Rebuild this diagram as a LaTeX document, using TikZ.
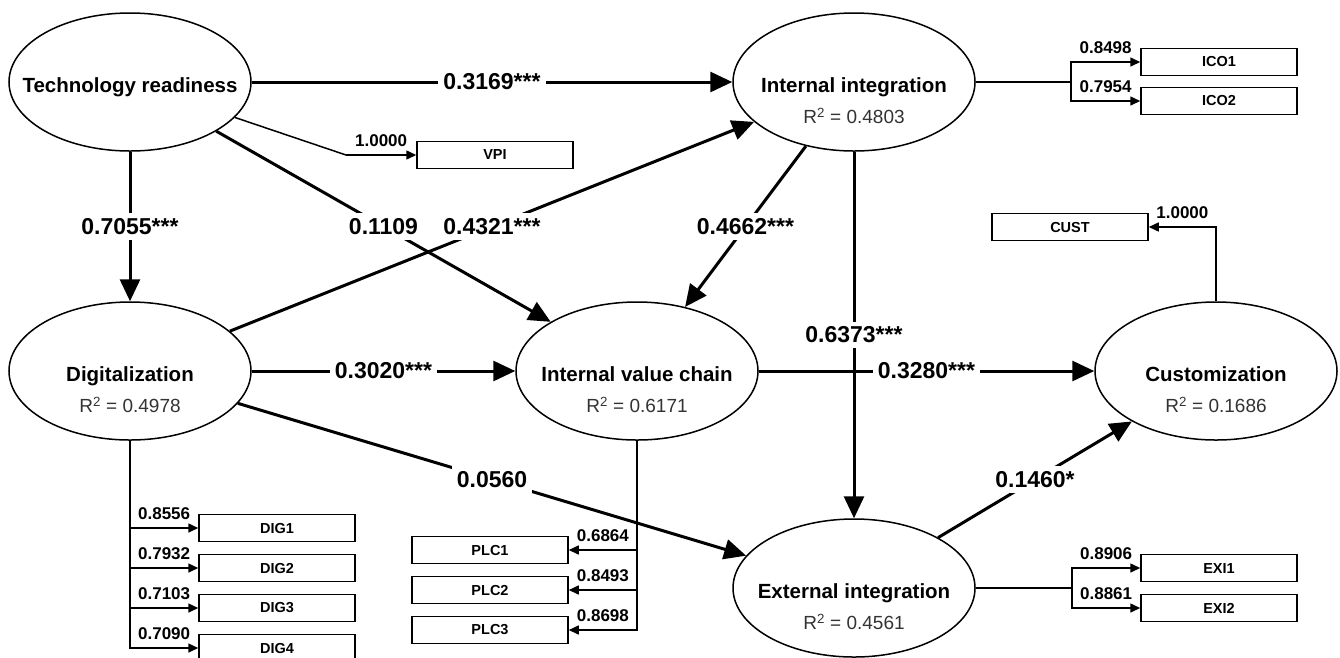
\documentclass[tikz,border=0pt]{standalone}
\usepackage{fontspec}
\setmainfont{Liberation Sans}
\usetikzlibrary{arrows.meta,shapes.geometric}
\begin{document}
\begin{tikzpicture}[x=1pt,y=-1pt,
  latent/.style={draw,ellipse,line width=1.5pt,minimum width=242pt,minimum height=138pt,inner sep=0pt},
  lvname/.style={inner sep=0pt,text height=14.7pt,text depth=0pt,font=\fontsize{20.5}{24}\selectfont\bfseries},
  rsq/.style={inner sep=0pt,text height=13.6pt,text depth=0pt,text=black!80,font=\fontsize{19}{22}\selectfont},
  item/.style={draw,line width=1.5pt,minimum width=156pt,minimum height=27pt,inner sep=0pt,font=\fontsize{14.5}{17}\selectfont\bfseries},
  coefline/.style={line width=3pt,-{Triangle[length=22pt,width=20pt]}},
  coef/.style={fill=white,inner sep=5pt,font=\fontsize{23}{27}\selectfont\bfseries},
  loadline/.style={line width=1.5pt},
  loadtip/.style={-{Triangle[length=10pt,width=9pt]}},
  load/.style={inner sep=1pt,above=7pt,font=\fontsize{17}{20}\selectfont\bfseries}]
  \useasboundingbox (0,0) rectangle (1340,657);
  \foreach \n/\x/\y/\t in {tr/130/82/Technology readiness,ii/854/82/Internal integration,
      dg/130/371/Digitalization,ivc/637/371/Internal value chain,
      cu/1216/371/Customization,ei/854/588/External integration}{
    \node[latent] (\n) at (\x,\y) {};
    \node[lvname] (\n name) at ([yshift=-3pt]\n.center) {\t};
  }
  \foreach \n/\r in {ii/0.4803,dg/0.4978,ivc/0.6171,cu/0.1686,ei/0.4561}
    \node[rsq] (\n r2) at ([yshift=-35pt]\n.center) {R\textsuperscript{2} = \r};

  \draw[coefline] (tr) -- node[coef] (trii) {0.3169***} (ii);
  \draw[coefline] (tr) -- node[coef] (trdg) {0.7055***} (dg);
  \draw[coefline] (tr) -- node[coef] (trivc) {0.1109} (ivc);
  \draw[coefline] (dg) -- node[coef] (dgii) {0.4321***} (ii);
  \draw[coefline] (ii) -- node[coef] (iiivc) {0.4662***} (ivc);
  \draw[coefline] (ii) -- node[coef] (iiei) {0.6373***} (ei);
  \draw[coefline] (dg) -- node[coef] (dgivc) {0.3020***} (ivc);
  \draw[coefline] (ivc) -- node[coef] (ivccu) {0.3280***} (cu);
  \draw[coefline] (dg) -- node[coef] (dgei) {0.0560} (ei);
  \draw[coefline] (ei) -- node[coef] (eicu) {0.1460*} (cu);

  \node[item] (vpi) at (495,155) {VPI};
  \coordinate (vpibend) at (346,155);
  \draw[loadline] (tr) -- (vpibend);
  \draw[loadline,loadtip] (vpibend) -- node[load] (vpil) {1.0000} (vpi);

  \node[item] (cust) at (1070,227) {CUST};
  \draw[loadline,loadtip] (cu) |- node[load,pos=0.75] (custl) {1.0000} (cust);

  \node[item] (ico1) at (1219,62) {ICO1};
  \node[item] (ico2) at (1219,101) {ICO2};
  \coordinate (iij) at (1071,82);
  \draw[loadline] (ii) -- (iij);
  \foreach \i/\v in {1/0.8498,2/0.7954}
    \draw[loadline,loadtip] (iij) |- node[load,pos=0.75] (icol\i) {\v} (ico\i);

  \node[item] (exi1) at (1219,568) {EXI1};
  \node[item] (exi2) at (1219,608) {EXI2};
  \coordinate (eij) at (1072,588);
  \draw[loadline] (ei) -- (eij);
  \foreach \i/\v in {1/0.8906,2/0.8861}
    \draw[loadline,loadtip] (eij) |- node[load,pos=0.75] (exil\i) {\v} (exi\i);

  \foreach \i/\y/\v in {1/528/0.8556,2/568/0.7932,3/608/0.7103,4/648/0.7090}{
    \node[item] (dig\i) at (277,\y) {DIG\i};
    \draw[loadline,loadtip] (dg) |- node[load,pos=0.75] (digl\i) {\v} (dig\i);
  }
  \foreach \i/\y/\v in {1/550/0.6864,2/590/0.8493,3/630/0.8698}{
    \node[item] (plc\i) at (490,\y) {PLC\i};
    \draw[loadline,loadtip] (ivc) |- node[load,pos=0.75] (plcl\i) {\v} (plc\i);
  }
\end{tikzpicture}
\end{document}
